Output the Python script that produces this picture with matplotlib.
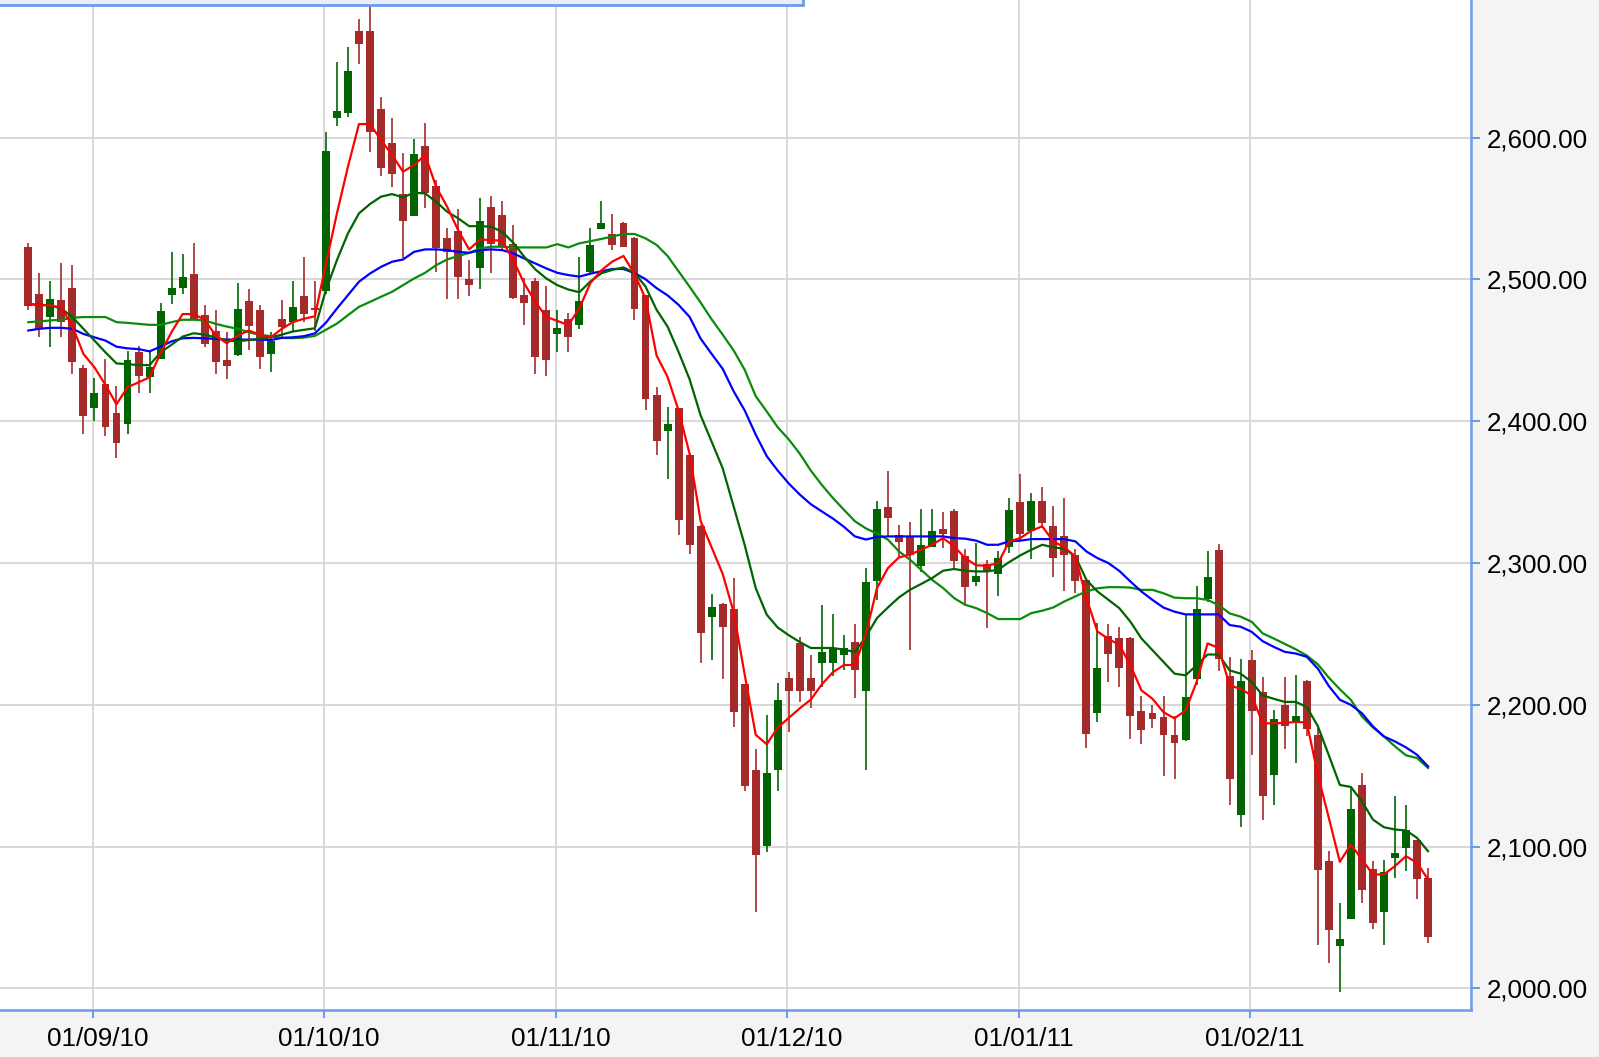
import numpy as np
import matplotlib
matplotlib.use("Agg")
import matplotlib.pyplot as plt
from matplotlib.patches import Rectangle
from matplotlib.transforms import ScaledTranslation

# OHLC, one session per entry
opens = [2523.2, 2490.0, 2473.5, 2485.3, 2494.3, 2437.4, 2409.5, 2426.1, 2405.5, 2398.1,
         2449.1, 2431.3, 2443.8, 2488.9, 2494.1, 2503.8, 2475.1, 2464.0, 2443.1, 2446.9,
         2484.6, 2478.7, 2447.4, 2471.8, 2469.9, 2488.4, 2480.1, 2492.0, 2613.6, 2617.2,
         2675.3, 2675.3, 2620.0, 2596.0, 2560.0, 2544.9, 2594.1, 2565.9, 2529.6, 2534.1,
         2500.0, 2507.8, 2550.8, 2545.4, 2524.7, 2488.9, 2498.6, 2478.8, 2461.2, 2471.8,
         2468.2, 2505.4, 2535.8, 2532.0, 2539.5, 2529.6, 2488.8, 2418.4, 2393.0, 2409.2,
         2376.4, 2326.3, 2261.9, 2271.4, 2267.7, 2214.5, 2154.3, 2100.4, 2154.3, 2218.6,
         2243.3, 2218.6, 2229.8, 2229.8, 2235.5, 2244.3, 2209.5, 2287.4, 2339.3, 2320.0,
         2318.4, 2298.1, 2311.3, 2324.2, 2336.9, 2305.2, 2286.6, 2299.3, 2292.5, 2311.1,
         2342.8, 2322.8, 2343.5, 2325.9, 2318.8, 2305.4, 2288.2, 2194.1, 2248.6, 2247.3,
         2247.3, 2195.5, 2194.1, 2191.7, 2178.7, 2175.2, 2218.4, 2274.7, 2309.5, 2220.3,
         2122.0, 2231.9, 2209.0, 2150.6, 2200.0, 2187.0, 2216.5, 2178.9, 2089.8, 2030.0,
         2048.8, 2143.7, 2084.0, 2054.2, 2091.7, 2098.7, 2104.6, 2077.6]
highs = [2525.6, 2504.7, 2498.8, 2511.8, 2510.2, 2439.8, 2430.8, 2443.8, 2424.9, 2449.8,
         2453.3, 2449.1, 2483.6, 2519.7, 2517.8, 2525.6, 2481.8, 2478.2, 2462.8, 2497.2,
         2493.1, 2481.8, 2462.8, 2485.8, 2498.8, 2516.1, 2498.8, 2604.2, 2653.2, 2664.2,
         2683.5, 2694.8, 2628.9, 2613.6, 2589.4, 2598.8, 2610.1, 2570.1, 2536.5, 2549.6,
         2513.6, 2557.2, 2559.1, 2555.3, 2538.4, 2500.7, 2500.7, 2495.3, 2478.4, 2476.5,
         2516.0, 2536.5, 2555.3, 2545.9, 2540.7, 2530.1, 2488.9, 2424.5, 2409.9, 2409.4,
         2377.1, 2326.5, 2278.2, 2272.1, 2289.7, 2214.7, 2168.8, 2192.5, 2215.2, 2223.0,
         2247.7, 2235.5, 2270.4, 2264.3, 2249.4, 2256.9, 2296.5, 2343.9, 2364.7, 2327.1,
         2329.0, 2338.1, 2338.1, 2336.0, 2338.1, 2310.1, 2314.1, 2302.4, 2308.2, 2345.9,
         2362.8, 2349.4, 2353.4, 2340.0, 2345.9, 2310.1, 2288.4, 2257.6, 2257.0, 2255.1,
         2248.0, 2206.1, 2200.0, 2206.1, 2192.4, 2263.4, 2283.5, 2308.3, 2313.7, 2233.8,
         2232.6, 2238.5, 2219.6, 2196.5, 2219.6, 2221.3, 2217.3, 2183.6, 2096.8, 2060.0,
         2141.4, 2151.9, 2089.8, 2090.3, 2135.5, 2129.7, 2104.8, 2084.6]
lows = [2478.7, 2459.2, 2452.1, 2459.2, 2433.2, 2391.2, 2400.5, 2389.3, 2373.9, 2391.2,
        2419.7, 2419.7, 2443.6, 2482.5, 2490.0, 2471.1, 2452.1, 2433.2, 2429.6, 2446.0,
        2450.2, 2437.2, 2435.1, 2458.0, 2464.0, 2469.9, 2464.0, 2490.0, 2608.5, 2614.4,
        2652.0, 2589.6, 2572.9, 2565.4, 2514.8, 2544.7, 2550.1, 2505.4, 2486.1, 2486.1,
        2488.2, 2493.6, 2504.7, 2520.7, 2486.1, 2467.8, 2433.6, 2431.8, 2449.0, 2449.0,
        2465.4, 2504.7, 2535.3, 2520.7, 2523.1, 2471.3, 2408.2, 2376.4, 2359.5, 2319.5,
        2306.6, 2229.8, 2231.5, 2217.9, 2184.1, 2139.4, 2053.7, 2096.0, 2139.4, 2180.7,
        2201.7, 2197.6, 2212.8, 2220.3, 2224.7, 2205.0, 2154.3, 2273.8, 2319.3, 2303.5,
        2238.8, 2293.4, 2311.1, 2310.6, 2295.3, 2271.0, 2284.0, 2254.1, 2276.5, 2307.1,
        2315.3, 2303.1, 2324.7, 2289.9, 2280.5, 2278.8, 2169.4, 2188.2, 2216.0, 2212.5,
        2175.9, 2172.3, 2183.7, 2149.9, 2147.5, 2174.7, 2214.2, 2272.8, 2223.6, 2129.1,
        2113.9, 2164.5, 2119.1, 2129.1, 2168.8, 2159.3, 2178.3, 2030.7, 2017.6, 1997.2,
        2048.8, 2060.5, 2041.7, 2030.7, 2077.6, 2082.8, 2062.8, 2032.0]
closes = [2481.0, 2465.2, 2486.5, 2469.9, 2441.5, 2403.6, 2420.1, 2396.0, 2384.6, 2443.1,
          2432.0, 2438.6, 2477.7, 2494.1, 2501.4, 2471.6, 2454.5, 2441.5, 2439.1, 2479.4,
          2467.5, 2445.0, 2456.9, 2466.4, 2480.6, 2475.4, 2478.2, 2590.6, 2618.8, 2647.1,
          2665.9, 2603.8, 2578.8, 2574.1, 2541.4, 2588.5, 2560.7, 2522.4, 2519.1, 2501.9,
          2496.0, 2541.2, 2524.7, 2523.5, 2487.1, 2483.5, 2445.4, 2443.5, 2466.1, 2459.1,
          2484.7, 2524.2, 2539.5, 2524.2, 2523.1, 2479.5, 2416.0, 2386.2, 2398.1, 2330.3,
          2312.7, 2250.8, 2269.3, 2255.2, 2194.9, 2142.7, 2094.3, 2151.9, 2203.4, 2209.5,
          2209.5, 2209.5, 2237.2, 2240.1, 2240.1, 2224.7, 2286.3, 2338.1, 2331.8, 2314.8,
          2305.9, 2312.9, 2322.4, 2320.5, 2301.6, 2283.1, 2290.6, 2294.1, 2303.5, 2337.6,
          2320.5, 2343.5, 2328.2, 2303.5, 2305.9, 2287.1, 2179.3, 2225.9, 2235.8, 2226.2,
          2192.4, 2182.5, 2190.1, 2178.7, 2173.0, 2205.4, 2267.6, 2290.5, 2232.2, 2148.0,
          2216.5, 2195.5, 2135.7, 2190.1, 2184.9, 2191.9, 2183.0, 2083.7, 2041.0, 2034.7,
          2126.8, 2069.2, 2046.4, 2082.1, 2095.4, 2111.4, 2076.9, 2036.6]

# moving average lines, read at each session
ma_red = [2482.9, 2481.8, 2481.8, 2480.1, 2467.0, 2447.5, 2438.0, 2425.6, 2412.0, 2424.0,
          2427.5, 2431.0, 2448.1, 2463.0, 2475.6, 2475.6, 2471.6, 2460.4, 2455.0, 2460.4,
          2464.0, 2461.1, 2459.2, 2465.2, 2469.9, 2472.3, 2474.0, 2511.0, 2546.6, 2579.5,
          2609.6, 2609.6, 2598.4, 2587.8, 2576.0, 2580.7, 2587.8, 2565.4, 2551.3, 2534.8,
          2521.2, 2528.2, 2527.8, 2527.3, 2513.6, 2497.2, 2484.2, 2473.6, 2470.8, 2467.8,
          2479.7, 2497.5, 2506.5, 2512.7, 2516.6, 2504.0, 2486.6, 2446.5, 2431.3, 2407.6,
          2377.1, 2329.7, 2311.0, 2292.4, 2265.3, 2221.3, 2178.9, 2172.2, 2184.0, 2190.8,
          2197.6, 2203.7, 2214.5, 2223.0, 2228.1, 2228.1, 2250.1, 2282.3, 2296.5, 2304.0,
          2305.9, 2309.4, 2312.9, 2317.6, 2311.8, 2303.5, 2298.4, 2298.1, 2300.0, 2315.3,
          2317.6, 2322.8, 2325.9, 2315.3, 2311.1, 2304.7, 2275.3, 2251.8, 2246.5, 2242.2,
          2227.9, 2210.2, 2204.3, 2194.8, 2190.5, 2196.0, 2216.1, 2243.3, 2240.2, 2213.7,
          2211.3, 2206.6, 2187.0, 2187.0, 2187.2, 2188.0, 2187.6, 2150.8, 2120.3, 2089.3,
          2101.5, 2091.0, 2080.4, 2080.4, 2086.3, 2093.3, 2088.6, 2076.9]
ma_dkgreen = [2482.5, 2482.2, 2481.8, 2479.4, 2473.5, 2465.2, 2456.9, 2448.6, 2440.8, 2440.3,
              2439.6, 2439.6, 2448.6, 2454.0, 2459.7, 2462.1, 2461.1, 2459.2, 2456.9, 2456.4,
              2457.3, 2458.1, 2459.2, 2461.1, 2463.3, 2464.5, 2465.6, 2492.5, 2513.6, 2532.5,
              2546.6, 2553.2, 2558.4, 2560.2, 2557.9, 2561.2, 2560.7, 2554.8, 2547.8, 2543.1,
              2537.6, 2537.6, 2537.2, 2533.6, 2525.9, 2516.0, 2507.1, 2500.7, 2496.0, 2492.9,
              2491.0, 2498.6, 2504.4, 2506.8, 2508.5, 2504.7, 2495.0, 2478.7, 2466.8, 2448.9,
              2429.6, 2404.2, 2385.5, 2366.9, 2339.8, 2312.7, 2282.3, 2263.6, 2254.5, 2249.1,
              2244.3, 2240.1, 2240.1, 2240.1, 2238.9, 2237.3, 2248.1, 2261.2, 2268.7, 2275.8,
              2281.2, 2285.2, 2289.4, 2294.6, 2295.8, 2294.6, 2294.1, 2294.1, 2295.3, 2300.7,
              2305.4, 2309.4, 2312.9, 2311.1, 2310.1, 2304.7, 2288.2, 2280.0, 2274.1, 2268.1,
              2258.6, 2246.8, 2238.5, 2230.3, 2222.0, 2220.8, 2227.9, 2235.5, 2235.5, 2224.3,
              2222.0, 2216.1, 2206.6, 2204.3, 2202.1, 2202.1, 2198.5, 2185.0, 2164.5, 2143.5,
              2142.1, 2132.0, 2119.1, 2113.7, 2112.1, 2111.4, 2106.2, 2096.8]
ma_blue = [2464.0, 2465.2, 2465.9, 2465.9, 2465.2, 2461.6, 2459.2, 2456.9, 2452.6, 2451.4,
           2450.9, 2449.3, 2452.6, 2456.4, 2458.5, 2458.8, 2458.5, 2458.1, 2457.6, 2457.6,
           2457.6, 2457.6, 2457.3, 2458.8, 2459.2, 2460.0, 2462.0, 2469.5, 2479.5, 2488.9,
           2498.4, 2504.2, 2508.9, 2512.5, 2514.1, 2519.5, 2521.2, 2521.2, 2520.7, 2519.5,
           2518.8, 2520.7, 2521.2, 2520.7, 2518.4, 2514.8, 2511.3, 2507.8, 2504.7, 2503.1,
           2502.0, 2504.1, 2505.8, 2507.4, 2507.4, 2504.5, 2500.2, 2493.9, 2488.8, 2482.1,
           2473.6, 2458.3, 2447.5, 2437.0, 2421.1, 2407.6, 2390.6, 2375.4, 2365.2, 2356.1,
           2348.3, 2341.5, 2336.4, 2331.4, 2325.6, 2318.8, 2316.6, 2318.4, 2318.8, 2318.8,
           2318.8, 2318.8, 2318.8, 2318.8, 2317.6, 2317.2, 2315.8, 2312.9, 2312.9, 2315.3,
           2315.8, 2316.9, 2316.9, 2316.9, 2316.9, 2315.3, 2308.2, 2303.5, 2300.0, 2294.4,
           2287.0, 2279.9, 2274.0, 2268.6, 2265.7, 2263.8, 2263.8, 2263.8, 2263.8, 2256.3,
           2255.1, 2251.5, 2244.9, 2240.9, 2237.4, 2236.2, 2233.9, 2225.6, 2213.3, 2203.6,
           2200.0, 2194.1, 2184.8, 2177.7, 2174.2, 2170.0, 2164.8, 2156.6]
ma_green = [2469.9, 2470.4, 2471.1, 2471.6, 2473.0, 2473.5, 2473.5, 2473.5, 2469.9, 2469.4,
            2468.7, 2468.0, 2468.0, 2469.9, 2471.6, 2471.6, 2471.1, 2468.7, 2466.8, 2465.2,
            2462.8, 2460.9, 2460.0, 2458.8, 2458.6, 2459.0, 2460.2, 2464.5, 2468.9, 2474.8,
            2480.7, 2484.2, 2487.8, 2491.3, 2496.0, 2500.7, 2504.7, 2510.1, 2514.1, 2516.5,
            2518.8, 2521.9, 2523.1, 2523.1, 2522.6, 2522.6, 2522.6, 2522.6, 2524.9, 2522.6,
            2525.5, 2527.0, 2528.6, 2530.3, 2532.1, 2532.1, 2529.0, 2524.4, 2516.6, 2505.8,
            2494.9, 2483.7, 2471.9, 2461.1, 2449.9, 2436.3, 2417.7, 2406.9, 2395.7, 2387.2,
            2377.1, 2365.2, 2355.1, 2345.9, 2337.6, 2329.5, 2324.4, 2320.8, 2316.5, 2308.2,
            2302.4, 2295.3, 2288.2, 2282.4, 2275.3, 2270.6, 2268.2, 2264.7, 2260.5, 2260.5,
            2260.5, 2264.7, 2266.4, 2268.7, 2272.9, 2276.5, 2280.0, 2282.2, 2283.0, 2283.0,
            2282.7, 2281.1, 2281.1, 2278.7, 2275.6, 2275.2, 2275.2, 2274.0, 2270.4, 2264.5,
            2262.2, 2258.6, 2250.4, 2246.8, 2243.0, 2239.2, 2234.8, 2228.6, 2219.2, 2211.0,
            2203.5, 2191.8, 2184.1, 2177.7, 2170.7, 2164.4, 2162.5, 2155.5]

# first session of each month and its label
month_first = [6, 27, 48, 69, 90, 111]
month_labels = ["01/09/10", "01/10/10", "01/11/10", "01/12/10", "01/01/11", "01/02/11"]
y_ticks = [2000, 2100, 2200, 2300, 2400, 2500, 2600]

UP = "#006400"
DOWN = "#a52a2a"
EDGE = "#6b9bea"

o = np.array(opens)
h = np.array(highs)
l = np.array(lows)
c = np.array(closes)
x = np.arange(len(o))
up = c >= o
cols = np.where(up, UP, DOWN)

plt.rcParams['font.family'] = ['Liberation Sans', 'DejaVu Sans']

fig = plt.figure(figsize=(15.99, 10.57), dpi=100, facecolor="#f4f4f4")
ax = fig.add_axes([0, 1 - 1010 / 1057, 1471 / 1599, 1010 / 1057])
ax.set_facecolor("white")

# grid
for yt in y_ticks:
    ax.axhline(yt, color="#d9d9d9", lw=1.5, zorder=0)
for m in month_first:
    ax.axvline(m - 0.15, color="#d9d9d9", lw=1.4, zorder=0)

# candles
ax.vlines(x, l, h, colors=cols, lw=1.4, alpha=0.85, zorder=2)
body = np.maximum(np.abs(c - o), 1.2)
ax.bar(x, body, bottom=np.minimum(o, c), width=0.72, color=cols, zorder=3)

# moving averages
ax.plot(x, ma_green, color="#0b8a0b", lw=1.6, zorder=4)
ax.plot(x, ma_blue, color="#0000ff", lw=1.6, zorder=4)
ax.plot(x, ma_dkgreen, color="#006400", lw=1.6, zorder=4)
ax.plot(x, ma_red, color="#ff0000", lw=1.6, zorder=4)

ax.set_xlim(-2.57, 130.9)
ax.set_ylim(1984.8, 2697.1)

# axes frame
for side in ["top", "left"]:
    ax.spines[side].set_visible(False)
for side in ["right", "bottom"]:
    ax.spines[side].set_color(EDGE)
    ax.spines[side].set_linewidth(1.8)

ax.yaxis.tick_right()
ax.set_yticks(y_ticks)
ax.set_yticklabels([f"{v:,.2f}" for v in y_ticks])
ax.tick_params(axis="y", direction="out", length=6.5, width=1.5, color=EDGE,
               labelsize=18.7, pad=5, labelcolor="black")
ax.set_xticks([m - 0.15 for m in month_first])
ax.set_xticklabels(month_labels)
ax.tick_params(axis="x", direction="out", length=6, width=1.5, color=EDGE,
               labelsize=18.7, pad=6, labelcolor="black")
shift = ScaledTranslation(5 / 100, 0, fig.dpi_scale_trans)
for lab in ax.get_xticklabels():
    lab.set_transform(lab.get_transform() + shift)

# legend box cut off at the top edge
fig.patches.append(Rectangle((-5, 1052), 808, 30, transform=None,
                             facecolor="#e9eefa", edgecolor=EDGE, lw=2, zorder=10))

fig.savefig("out.png", dpi=100, facecolor=fig.get_facecolor())
